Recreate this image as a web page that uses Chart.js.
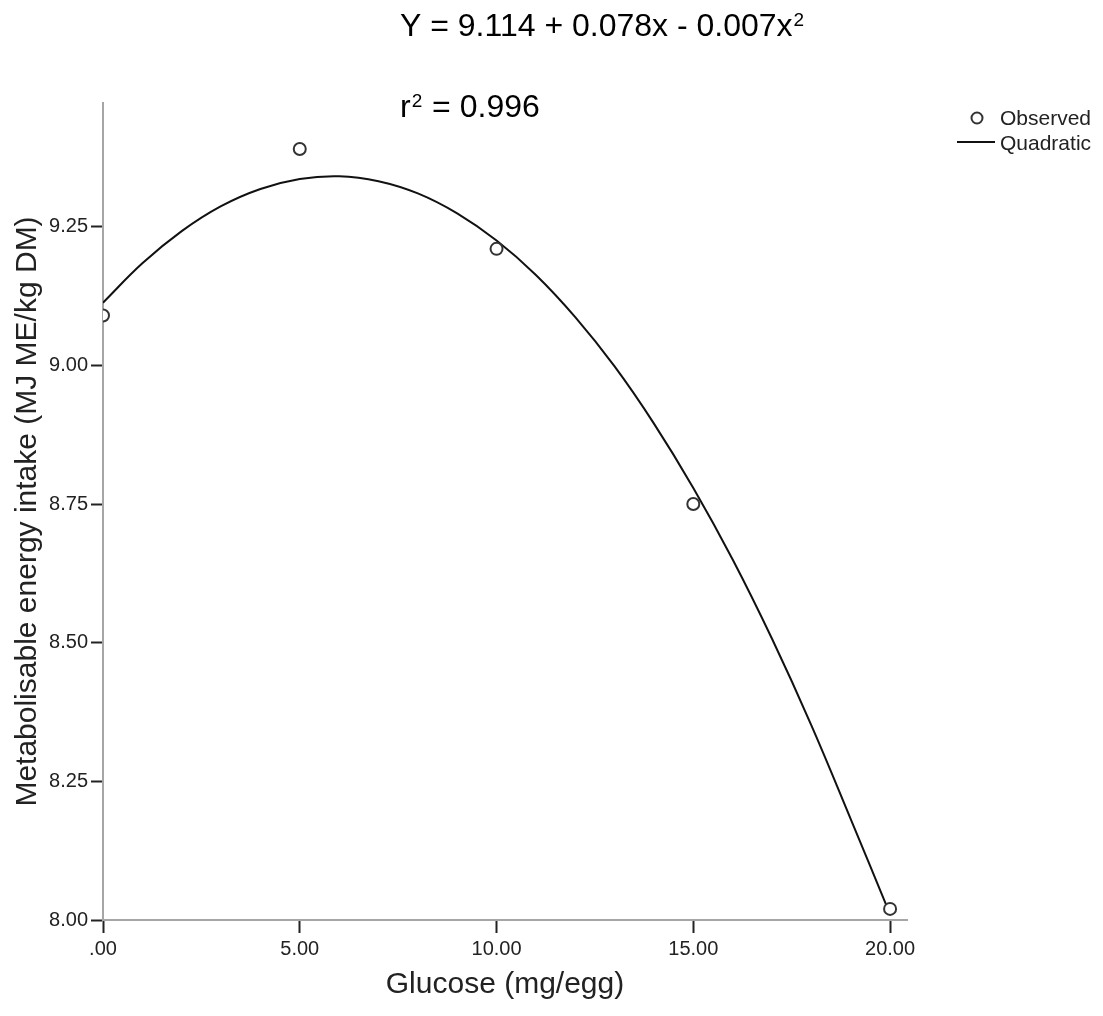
<!DOCTYPE html>
<html>
<head>
<meta charset="utf-8">
<script src="https://cdn.jsdelivr.net/npm/chart.js@4"></script>
<style>
body { margin: 0; background: #fff; }
</style>
</head>
<body>
<canvas id="myChart" width="1103" height="1016"></canvas>
<script>
var glucose = [0, 5, 10, 15, 20];
var observed = [9.09, 9.39, 9.21, 8.75, 8.02];

// quadratic curve
var curveX = [0, 1, 2, 3, 4, 5, 6, 7, 8, 9, 10, 11, 12, 13, 14, 15, 16, 17, 18, 19, 20];
var curveY = [9.113, 9.184, 9.242, 9.287, 9.318, 9.336, 9.341, 9.332, 9.310, 9.274, 9.225,
              9.163, 9.087, 8.998, 8.895, 8.779, 8.650, 8.507, 8.351, 8.182, 8.01];

var xTicks = [0, 5, 10, 15, 20];
var xTickLabels = ['.00', '5.00', '10.00', '15.00', '20.00'];
var yTicks = [8.00, 8.25, 8.50, 8.75, 9.00, 9.25];
var yTickLabels = ['8.00', '8.25', '8.50', '8.75', '9.00', '9.25'];

var FONT = '"Liberation Sans", Arial, sans-serif';

var textPlugin = {
    id: 'textPlugin',
    afterDraw: function(chart) {
        var c = chart.ctx;
        c.save();
        c.fillStyle = '#000';
        c.textBaseline = 'alphabetic';
        c.textAlign = 'left';
        // equation
        c.font = '32px ' + FONT;
        var eq = 'Y = 9.114 + 0.078x - 0.007x';
        c.fillText(eq, 400, 36);
        var w = c.measureText(eq).width;
        c.font = '19px ' + FONT;
        c.fillText('2', 400 + w + 1, 26);
        // r squared
        c.font = '32px ' + FONT;
        c.fillText('r', 400, 117);
        var rw = c.measureText('r').width;
        c.font = '19px ' + FONT;
        c.fillText('2', 400 + rw + 1, 107);
        var sw = c.measureText('2').width;
        c.font = '32px ' + FONT;
        c.fillText(' = 0.996', 400 + rw + sw + 2, 117);

        // legend
        c.font = '21px ' + FONT;
        c.fillStyle = '#222';
        c.textBaseline = 'middle';
        c.strokeStyle = '#333';
        c.lineWidth = 2;
        c.beginPath();
        c.arc(977, 118, 5.5, 0, Math.PI * 2);
        c.stroke();
        c.fillText('Observed', 1000, 119);
        c.strokeStyle = '#111';
        c.lineWidth = 2;
        c.beginPath();
        c.moveTo(957, 142);
        c.lineTo(995, 142);
        c.stroke();
        c.fillText('Quadratic', 1000, 144);
        c.restore();
    }
};

var ctx = document.getElementById('myChart').getContext('2d');
var myChart = new Chart(ctx, {
    type: 'scatter',
    data: {
        datasets: [{
            label: 'Observed',
            data: glucose.map(function(x, i) { return {x: x, y: observed[i]}; }),
            pointRadius: 6,
            pointHoverRadius: 6,
            pointBorderWidth: 2,
            pointBorderColor: '#333',
            pointBackgroundColor: '#fff',
            showLine: false,
            clip: 0,
            order: 0
        }, {
            label: 'Quadratic',
            data: curveX.map(function(x, i) { return {x: x, y: curveY[i]}; }),
            showLine: true,
            borderColor: '#111',
            borderWidth: 2,
            pointRadius: 0,
            tension: 0.4,
            fill: false,
            order: 1
        }]
    },
    options: {
        responsive: false,
        animation: false,
        devicePixelRatio: 1,
        layout: {
            padding: { top: 103, right: 196, left: 0, bottom: 0 }
        },
        plugins: {
            legend: { display: false },
            tooltip: { enabled: false }
        },
        scales: {
            x: {
                type: 'linear',
                min: 0,
                max: 20.43,
                afterBuildTicks: function(scale) {
                    scale.ticks = xTicks.map(function(v) { return {value: v}; });
                },
                afterFit: function(scale) { scale.height = 96; },
                ticks: {
                    autoSkip: false,
                    maxRotation: 0,
                    padding: 4,
                    color: '#222',
                    font: { family: FONT, size: 20 },
                    callback: function(value, index) { return xTickLabels[index]; }
                },
                grid: {
                    drawOnChartArea: false,
                    drawTicks: true,
                    tickLength: 13,
                    tickWidth: 2,
                    tickColor: '#222'
                },
                border: { display: true, color: '#a6a6a6', width: 2 },
                title: {
                    display: true,
                    text: 'Glucose (mg/egg)',
                    color: '#222',
                    font: { family: FONT, size: 30 },
                    padding: { top: 0, bottom: 13 }
                }
            },
            y: {
                type: 'linear',
                min: 8.0,
                max: 9.473,
                afterBuildTicks: function(scale) {
                    scale.ticks = yTicks.map(function(v) { return {value: v}; });
                },
                afterFit: function(scale) { scale.width = 103; },
                ticks: {
                    autoSkip: false,
                    padding: 3,
                    color: '#222',
                    font: { family: FONT, size: 20 },
                    callback: function(value, index) { return yTickLabels[index]; }
                },
                grid: {
                    drawOnChartArea: false,
                    drawTicks: true,
                    tickLength: 12,
                    tickWidth: 2,
                    tickColor: '#222'
                },
                border: { display: true, color: '#a6a6a6', width: 2 },
                title: {
                    display: true,
                    text: 'Metabolisable energy intake (MJ ME/kg DM)',
                    color: '#222',
                    font: { family: FONT, size: 30 },
                    padding: { top: 10, bottom: 0 }
                }
            }
        }
    },
    plugins: [textPlugin]
});
</script>
</body>
</html>
